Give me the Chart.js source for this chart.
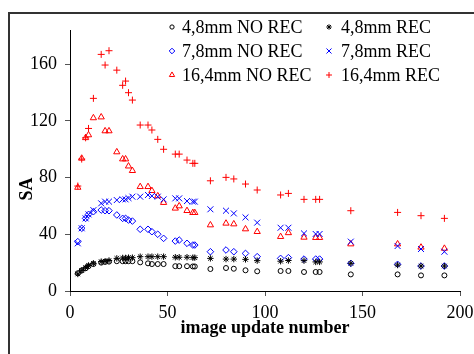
<!DOCTYPE html>
<html>
<head>
<meta charset="utf-8">
<script src="https://cdn.jsdelivr.net/npm/chart.js@4/dist/chart.umd.min.js"></script>
<style>
html,body{margin:0;padding:0;background:#fff;}
#wrap{position:relative;width:474px;height:354px;}
</style>
</head>
<body>
<div id="wrap"><canvas id="c" width="474" height="354"></canvas></div>
<script>
// image update numbers (shared sample positions)
const updates = [4, 6, 8, 9.5, 12, 16, 18, 20, 24, 27, 28.5, 30, 32, 36, 40, 42, 45, 48, 54, 56, 60, 63, 64, 72, 80, 84, 90, 96, 108, 112, 120, 126, 128, 144, 168, 180, 192];

const sa48NoRec = [12.5, 14.5, 16, 17.5, 19, 20, 20.5, 20.7, 21, 21, 21, 21, 21, 20.2, 19.5, 19, 19, 19, 17.5, 17.5, 17.5, 17.3, 17.3, 15.5, 16.2, 15.7, 14.6, 13.9, 14.1, 14.1, 13.4, 13.4, 13.4, 11.7, 11.7, 11, 11];
const sa48Rec = [12, 14.5, 16.5, 18, 19.5, 20.7, 21, 21.5, 23, 23.3, 23.3, 23.5, 23.5, 24.2, 24.2, 24.2, 24.2, 24.2, 23.8, 23.8, 23.8, 23.5, 23.5, 23, 22.5, 22.5, 22.3, 21.4, 21, 21.5, 21.4, 20.5, 20.5, 19.5, 18.3, 17.6, 17.6];
const sa78NoRec = [34.8, 44.2, 51.2, 54, 55.9, 57.1, 56.6, 56.6, 53.6, 51.2, 51.2, 50, 49.3, 43.5, 43.5, 41.8, 40, 37.1, 35.2, 35.9, 33.6, 32.4, 32.4, 27.7, 28.9, 27.7, 26.5, 24.2, 23, 23.5, 22.5, 22.5, 22.5, 19.5, 18.8, 17.6, 17.6];
const sa78Rec = [33.6, 44.2, 51.2, 54, 57, 61.8, 63, 63, 64.1, 64.6, 64.6, 65.5, 66.5, 66.5, 67.7, 67, 66.5, 64.6, 65.3, 65.3, 63.4, 63, 63, 57.6, 56.6, 54.7, 51.9, 48.2, 44.6, 44.6, 40.6, 40.2, 40.2, 34.8, 31.7, 29.6, 27.7];
const sa164NoRec = [73, 93.5, 108, 110, 122, 122.6, 112.8, 112.8, 98, 93, 93, 88, 84.8, 73.5, 73.5, 70.7, 67, 62.3, 58.3, 59.9, 56.6, 55.2, 55.2, 46.5, 47.7, 47.2, 43.7, 41.8, 38.3, 41, 37.8, 37.6, 37.6, 33.1, 33.1, 30.8, 30];
const sa164Rec = [74, 93, 108, 114.6, 135.8, 166.8, 159.3, 169.4, 155.7, 145, 148, 139.8, 134.6, 117, 117, 113.5, 106.9, 99.9, 96.5, 96.5, 92.3, 90, 90, 77.7, 80.1, 79, 75.4, 71.2, 67.7, 68.8, 64.6, 64.6, 64.6, 56.6, 55.4, 53.1, 51.2];

const seriesLabels = ['4,8mm NO REC', '4,8mm REC', '7,8mm NO REC', '7,8mm REC', '16,4mm NO REC', '16,4mm REC'];
const xTicks = [0, 50, 100, 150, 200];
const yTicks = [0, 40, 80, 120, 160];
const xTitle = 'image update number';
const yTitle = 'SA';

const FONT = "'Liberation Serif', 'Times New Roman', serif";

function pts(vals) { return updates.map((x, i) => ({ x: x, y: vals[i] })); }

const styles = [
  { color: '#000000', style: 'circle', r: 2.5 },
  { color: '#000000', style: 'star', r: 3.2 },
  { color: '#0000ff', style: 'rectRot', r: 3.3 },
  { color: '#0000ff', style: 'crossRot', r: 4.2 },
  { color: '#ff0000', style: 'triangle', r: 3.6 },
  { color: '#ff0000', style: 'cross', r: 3.5 }
];
const values = [sa48NoRec, sa48Rec, sa78NoRec, sa78Rec, sa164NoRec, sa164Rec];

const datasets = values.map((v, i) => ({
  label: seriesLabels[i],
  data: pts(v),
  showLine: false,
  pointStyle: styles[i].style,
  pointRadius: styles[i].r,
  pointHoverRadius: styles[i].r,
  pointBorderColor: styles[i].color,
  pointBackgroundColor: 'rgba(0,0,0,0)',
  borderColor: styles[i].color,
  backgroundColor: 'rgba(0,0,0,0)',
  pointBorderWidth: 1
}));

const framePlugin = {
  id: 'frame',
  beforeDraw(chart) {
    const ctx = chart.ctx;
    ctx.save();
    ctx.fillStyle = '#ffffff';
    ctx.fillRect(0, 0, chart.width, chart.height);
    ctx.strokeStyle = '#333333';
    ctx.lineWidth = 2;
    ctx.beginPath();
    ctx.moveTo(9, chart.height);
    ctx.lineTo(9, 13);
    ctx.lineTo(chart.width, 13);
    ctx.stroke();
    ctx.restore();
  }
};

function drawMarker(ctx, style, x, y, r) {
  const H = (window.Chart && Chart.helpers && Chart.helpers.drawPoint) ? Chart.helpers.drawPoint : null;
  if (H) {
    H(ctx, { pointStyle: style, radius: r, rotation: 0, borderWidth: 1 }, x, y);
    return;
  }
  ctx.beginPath();
  ctx.arc(x, y, r, 0, Math.PI * 2);
  ctx.stroke();
}

const legendPlugin = {
  id: 'customLegend',
  afterDraw(chart) {
    const ctx = chart.ctx;
    ctx.save();
    ctx.font = '18px ' + FONT;
    ctx.textBaseline = 'middle';
    ctx.textAlign = 'left';
    const rows = [27, 51, 75];
    const cols = [{ m: 172, t: 182 }, { m: 329, t: 341 }];
    for (let i = 0; i < seriesLabels.length; i++) {
      const row = Math.floor(i / 2), col = i % 2;
      const st = styles[i];
      ctx.strokeStyle = st.color;
      ctx.fillStyle = 'rgba(0,0,0,0)';
      ctx.lineWidth = 1;
      drawMarker(ctx, st.style, cols[col].m, rows[row], st.r * 0.85);
      ctx.fillStyle = '#000';
      ctx.fillText(seriesLabels[i], cols[col].t, rows[row] + 1);
    }
    // y axis title
    ctx.save();
    ctx.translate(27, 189);
    ctx.rotate(-Math.PI / 2);
    ctx.font = 'bold 18px ' + FONT;
    ctx.textAlign = 'center';
    ctx.textBaseline = 'middle';
    ctx.fillStyle = '#000';
    ctx.fillText(yTitle, 0, 0);
    ctx.restore();
    ctx.restore();
  }
};

new Chart(document.getElementById('c'), {
  type: 'scatter',
  data: { datasets: datasets },
  options: {
    responsive: false,
    animation: false,
    events: [],
    layout: { padding: { top: 30, right: 14, left: 0, bottom: 0 } },
    plugins: { legend: { display: false }, tooltip: { enabled: false } },
    scales: {
      x: {
        type: 'linear',
        min: 0, max: 200,
        afterBuildTicks(scale) { scale.ticks = xTicks.map(v => ({ value: v })); },
        afterFit(scale) { scale.height = 63; scale.paddingLeft = 0; scale.paddingRight = 0; },
        grid: { display: true, drawOnChartArea: false, drawTicks: true, tickLength: 5, color: '#555' },
        border: { display: true, color: '#000', width: 1 },
        ticks: { color: '#000', font: { family: FONT, size: 18 }, padding: 6, maxRotation: 0, autoSkip: false },
        title: { display: true, text: xTitle, color: '#000', font: { family: FONT, size: 18, weight: 'bold' }, padding: { top: 0, bottom: 15 } }
      },
      y: {
        type: 'linear',
        min: 0, max: 184,
        afterBuildTicks(scale) { scale.ticks = yTicks.map(v => ({ value: v })); },
        afterFit(scale) { scale.width = 70; scale.paddingTop = 0; scale.paddingBottom = 0; },
        grid: { display: true, drawOnChartArea: false, drawTicks: true, tickLength: 5, color: '#555' },
        border: { display: true, color: '#000', width: 1 },
        ticks: { color: '#000', font: { family: FONT, size: 18 }, padding: 8, autoSkip: false },
        title: { display: false }
      }
    }
  },
  plugins: [framePlugin, legendPlugin]
});
</script>
</body>
</html>
